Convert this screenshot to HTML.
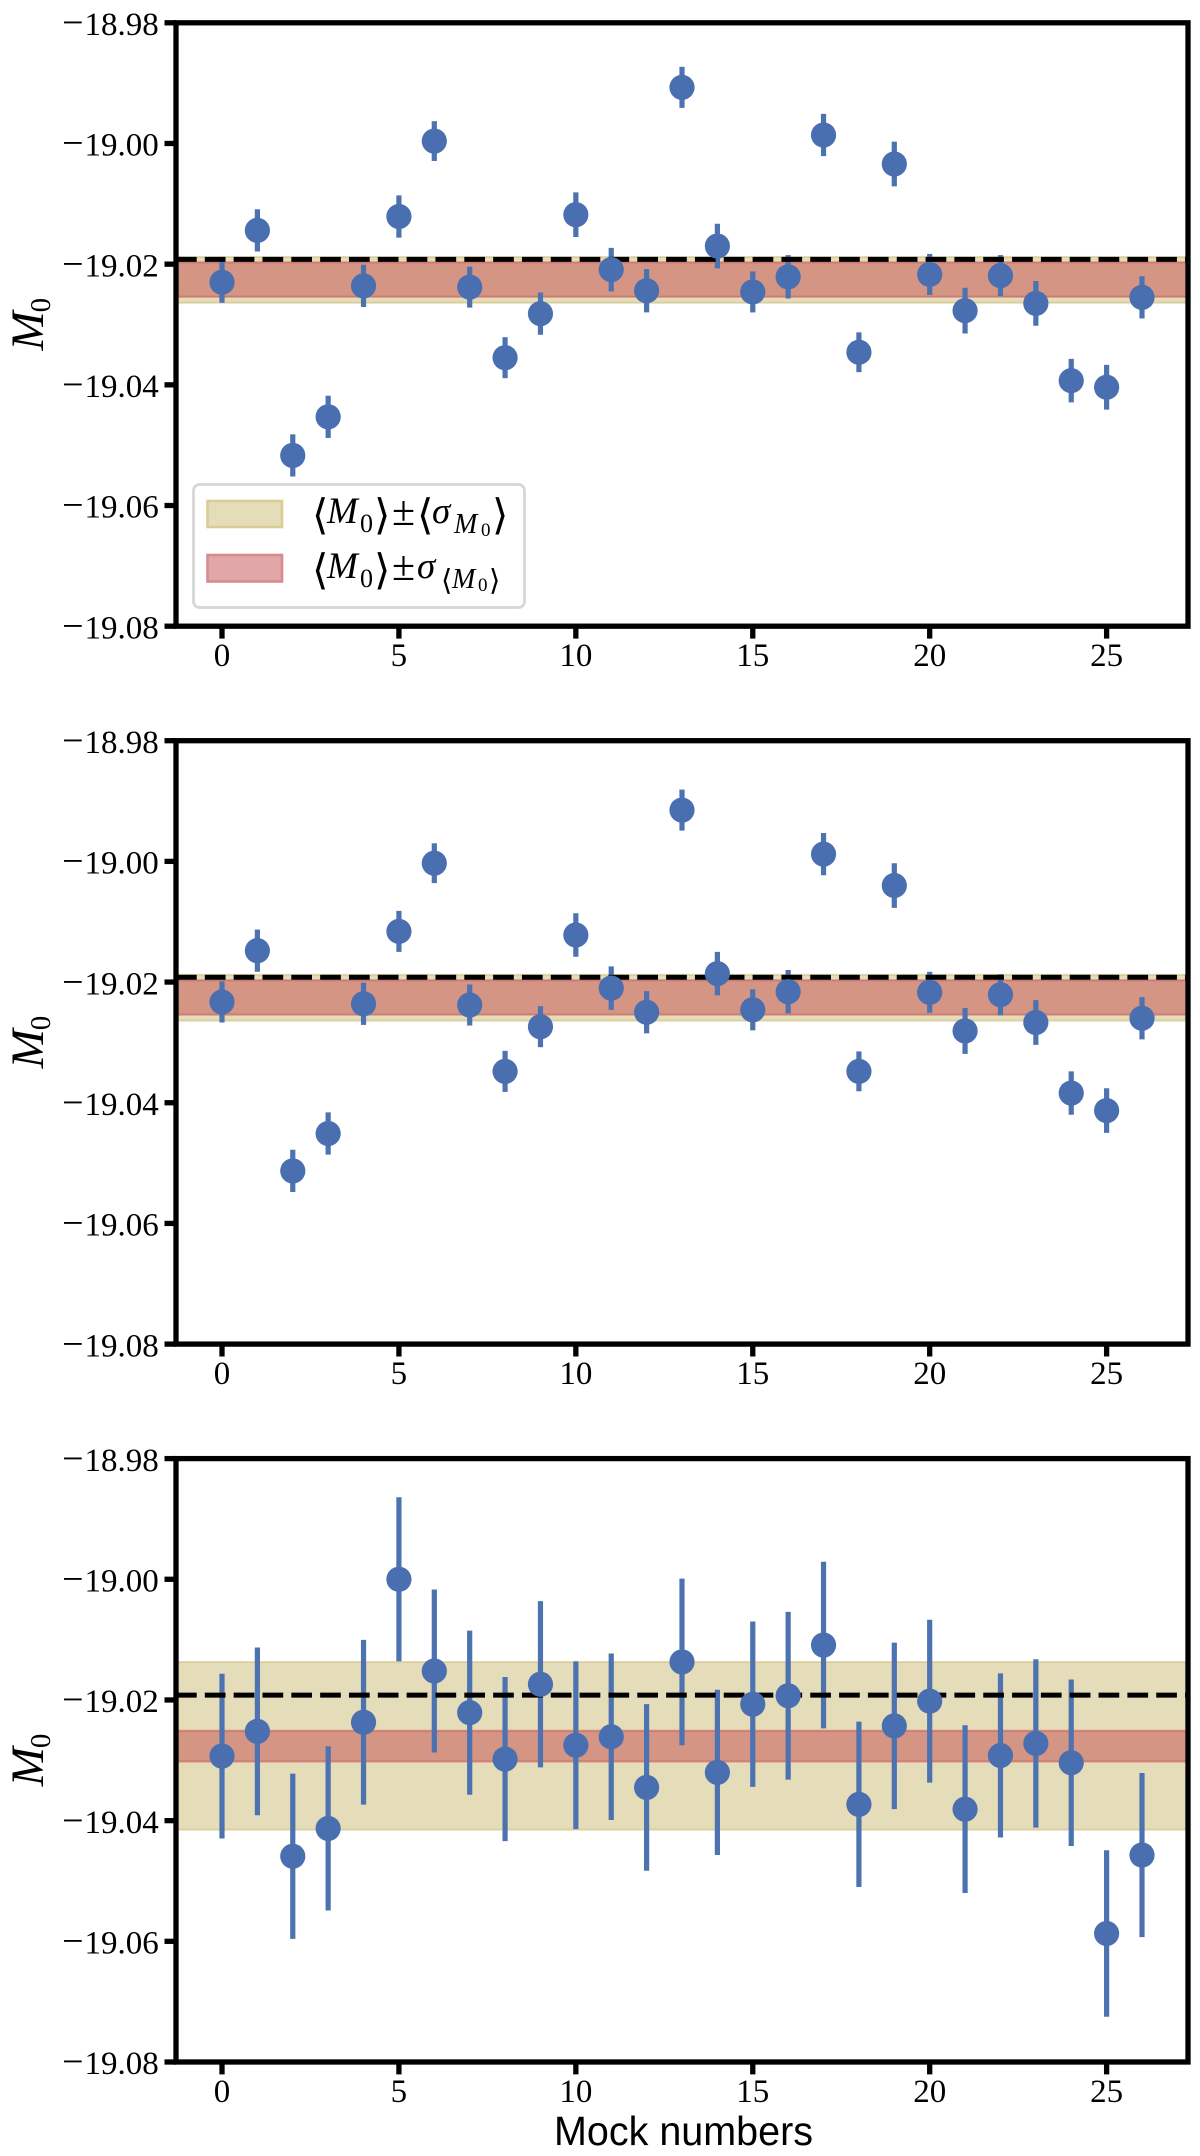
<!DOCTYPE html>
<html lang="en">
<head>
<meta charset="utf-8">
<title>M0 versus mock numbers</title>
<style>
html,body{margin:0;padding:0;background:#fff;width:1200px;height:2156px;overflow:hidden}
svg{display:block}
text{fill:#000;font-family:"Liberation Serif","DejaVu Serif",serif}
.it{font-style:italic}
</style>
</head>
<body>
<svg id="figure" xmlns="http://www.w3.org/2000/svg" width="1200" height="2156" viewBox="0 0 1200 2156">
  <g id="panels"></g>
  <g>
    <rect x="193.5" y="484.5" width="331" height="123" rx="6" ry="6" fill="#fff" stroke="#d6d6d6" stroke-width="2.7"/>
    <rect x="207.5" y="501" width="74.5" height="26" fill="#e5dcb9" stroke="#dccb93" stroke-width="2.6"/>
    <rect x="207.5" y="555" width="74.5" height="26.5" fill="#e1a6a8" stroke="#d98a8d" stroke-width="2.6"/>
    <text font-size="37"><tspan font-size="42" x="312" y="529">⟨</tspan><tspan class="it" x="327" y="523">M</tspan><tspan font-size="26" x="360" y="532">0</tspan><tspan font-size="42" x="374" y="529">⟩</tspan><tspan font-size="42" x="392" y="525">±</tspan><tspan font-size="42" x="417" y="529">⟨</tspan><tspan class="it" x="432" y="523">σ</tspan><tspan class="it" font-size="28" x="454" y="533">M</tspan><tspan font-size="19" x="481" y="536">0</tspan><tspan font-size="42" x="492" y="529">⟩</tspan></text>
    <text font-size="37"><tspan font-size="42" x="312" y="584">⟨</tspan><tspan class="it" x="327" y="578">M</tspan><tspan font-size="26" x="360" y="587">0</tspan><tspan font-size="42" x="374" y="584">⟩</tspan><tspan font-size="42" x="392" y="580">±</tspan><tspan class="it" x="417" y="578">σ</tspan><tspan font-size="29" x="441" y="590">⟨</tspan><tspan class="it" font-size="28" x="452" y="588">M</tspan><tspan font-size="19" x="478" y="591">0</tspan><tspan font-size="29" x="489" y="590">⟩</tspan></text>
  </g>
  <text x="554" y="2145" font-size="40.5" textLength="259" lengthAdjust="spacingAndGlyphs" style="font-family:'Liberation Sans','DejaVu Sans',sans-serif">Mock numbers</text>
</svg>
<script>
const categories = [0,1,2,3,4,5,6,7,8,9,10,11,12,13,14,15,16,17,18,19,20,21,22,23,24,25,26];

const panel1Values = [-19.0230,-19.0144,-19.0517,-19.0453,-19.0236,-19.0121,-18.9996,-19.0238,-19.0355,-19.0282,-19.0118,-19.0209,-19.0244,-18.9907,-19.0170,-19.0246,-19.0221,-18.9986,-19.0346,-19.0034,-19.0217,-19.0277,-19.0219,-19.0265,-19.0393,-19.0404,-19.0255];
const panel1Errors = [0.0034,0.0035,0.0035,0.0035,0.0035,0.0035,0.0033,0.0034,0.0034,0.0035,0.0037,0.0036,0.0036,0.0034,0.0037,0.0034,0.0036,0.0035,0.0033,0.0037,0.0034,0.0038,0.0034,0.0037,0.0036,0.0037,0.0035];

const panel2Values = [-19.0233,-19.0148,-19.0513,-19.0451,-19.0236,-19.0116,-19.0003,-19.0238,-19.0348,-19.0274,-19.0122,-19.0210,-19.0250,-18.9915,-19.0186,-19.0246,-19.0216,-18.9988,-19.0348,-19.0040,-19.0217,-19.0281,-19.0221,-19.0267,-19.0384,-19.0413,-19.0260];
const panel2Errors = [0.0034,0.0035,0.0035,0.0035,0.0035,0.0034,0.0033,0.0034,0.0034,0.0034,0.0036,0.0036,0.0035,0.0034,0.0036,0.0034,0.0036,0.0035,0.0033,0.0037,0.0034,0.0038,0.0034,0.0037,0.0036,0.0037,0.0035];

const panel3Values = [-19.0293,-19.0252,-19.0459,-19.0413,-19.0237,-19.0000,-19.0152,-19.0221,-19.0298,-19.0174,-19.0275,-19.0261,-19.0345,-19.0137,-19.0320,-19.0207,-19.0193,-19.0109,-19.0373,-19.0243,-19.0202,-19.0381,-19.0292,-19.0272,-19.0304,-19.0587,-19.0457];
const panel3Errors = [0.01365,0.0139,0.0137,0.0136,0.01365,0.0136,0.0135,0.0136,0.0136,0.01377,0.0139,0.0138,0.0138,0.0138,0.0137,0.0137,0.0139,0.0138,0.0137,0.0138,0.0135,0.0139,0.0136,0.01395,0.0138,0.0138,0.0136];

const referenceLevels = [-19.0192,-19.0192,-19.0192];
const yellowBandUpper = [-19.0188,-19.0188,-19.0137];
const yellowBandLower = [-19.0264,-19.0264,-19.0415];
const redBandUpper = [-19.0197,-19.0197,-19.0251];
const redBandLower = [-19.0254,-19.0254,-19.0302];

const yTickValues = [-18.98,-19.00,-19.02,-19.04,-19.06,-19.08];
const yTickLabels = ['18.98','19.00','19.02','19.04','19.06','19.08'];
const xTickValues = [0,5,10,15,20,25];
const xTickLabels = ['0','5','10','15','20','25'];

const allValues = [panel1Values,panel2Values,panel3Values];
const allErrors = [panel1Errors,panel2Errors,panel3Errors];

const X_MIN = -1.3, X_MAX = 27.3, Y_TOP = -18.98, Y_BOTTOM = -19.08;
const PLOT_LEFT = 176, PLOT_RIGHT = 1188, PLOT_HEIGHT = 603.4;
const PANEL_TOPS = [22.8, 740.7, 1458.6];
const SVG_NS = 'http://www.w3.org/2000/svg';

function xScale(v){ return PLOT_LEFT + (v - X_MIN) / (X_MAX - X_MIN) * (PLOT_RIGHT - PLOT_LEFT); }
function yScaleFor(top){ return function(v){ return top + (Y_TOP - v) / (Y_TOP - Y_BOTTOM) * PLOT_HEIGHT; }; }
function mk(parent, tag, attrs){
  const el = document.createElementNS(SVG_NS, tag);
  for (const k in attrs) el.setAttribute(k, attrs[k]);
  parent.appendChild(el);
  return el;
}

const root = document.getElementById('panels');

PANEL_TOPS.forEach(function(top, p){
  const y = yScaleFor(top);
  const g = mk(root, 'g', {});
  
  

  const yb = mk(g, 'rect', {x: PLOT_LEFT, y: y(yellowBandUpper[p]), width: PLOT_RIGHT - PLOT_LEFT, height: y(yellowBandLower[p]) - y(yellowBandUpper[p]), fill: '#ccb974', 'fill-opacity': 0.5, stroke: '#ccb974', 'stroke-opacity': 0.5, 'stroke-width': 2});
  
  

  const rb = mk(g, 'rect', {x: PLOT_LEFT, y: y(redBandUpper[p]), width: PLOT_RIGHT - PLOT_LEFT, height: y(redBandLower[p]) - y(redBandUpper[p]), fill: '#c44e52', 'fill-opacity': 0.5, stroke: '#c44e52', 'stroke-opacity': 0.5, 'stroke-width': 2});
  
  

  categories.forEach(function(c, i){
    const v = allValues[p][i], e = allErrors[p][i];
    const bar = mk(g, 'line', {x1: xScale(c), x2: xScale(c), y1: y(v + e), y2: y(v - e), stroke: '#4c72b0', 'stroke-width': 5.2});
    
    
  });

  const dash = mk(g, 'line', {x1: PLOT_LEFT, x2: PLOT_RIGHT, y1: y(referenceLevels[p]), y2: y(referenceLevels[p]), stroke: '#000', 'stroke-width': 5, 'stroke-dasharray': '20.7 8.13'});
  
  

  categories.forEach(function(c, i){
    const pt = mk(g, 'circle', {cx: xScale(c), cy: y(allValues[p][i]), r: 12.6, fill: '#4a6fb0'});
    
    
  });

  yTickValues.forEach(function(v, i){
    const t = mk(g, 'line', {x1: 164.5, x2: PLOT_LEFT, y1: y(v), y2: y(v), stroke: '#000', 'stroke-width': 5.3});
    
    
    const lab = mk(g, 'text', {x: 158.8, y: y(v) + 12.2, 'font-size': 33, 'text-anchor': 'end'});
    
    
    const minus = mk(lab, 'tspan', {'font-size': 38});
    minus.textContent = '\u2212';
    const num = mk(lab, 'tspan', {dx: 1});
    num.textContent = yTickLabels[i];
  });

  xTickValues.forEach(function(v, i){
    const t = mk(g, 'line', {x1: xScale(v), x2: xScale(v), y1: top + PLOT_HEIGHT, y2: top + PLOT_HEIGHT + 12.4, stroke: '#000', 'stroke-width': 5.3});
    
    
    const lab = mk(g, 'text', {x: xScale(v), y: top + PLOT_HEIGHT + 40, 'font-size': 33, 'text-anchor': 'middle'});
    lab.textContent = xTickLabels[i];
    
    
  });

  const frame = mk(g, 'rect', {x: PLOT_LEFT, y: top, width: PLOT_RIGHT - PLOT_LEFT, height: PLOT_HEIGHT, fill: 'none', stroke: '#000', 'stroke-width': 5.3});
  
  

  const cx = 43, cy = top + PLOT_HEIGHT / 2 + 26;
  const yl = mk(g, 'text', {x: cx, y: cy, 'font-size': 47, transform: 'rotate(-90 ' + cx + ' ' + cy + ')'});
  
  
  const m = mk(yl, 'tspan', {'font-style': 'italic'});
  m.textContent = 'M';
  const sub = mk(yl, 'tspan', {'font-size': 29, dy: 7, dx: -1});
  sub.textContent = '0';
});
</script>
</body>
</html>
